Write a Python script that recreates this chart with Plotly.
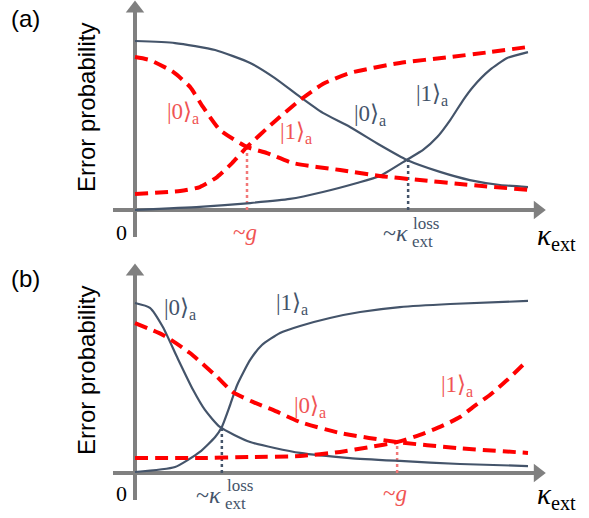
import plotly.graph_objects as go

# ---------------- data (schematic, normalised units) ----------------
# panel (a)
a_dark0_x = [0, 0.102, 0.204, 0.293, 0.356, 0.42, 0.478, 0.547, 0.623, 0.692, 0.776, 0.852, 0.929, 1.0]
a_dark0_y = [0.994, 0.982, 0.941, 0.865, 0.776, 0.665, 0.571, 0.488, 0.382, 0.294, 0.224, 0.176, 0.147, 0.135]
a_dark1_x = [0, 0.165, 0.293, 0.394, 0.478, 0.565, 0.623, 0.695, 0.733, 0.769, 0.802, 0.835, 0.860, 0.903, 0.947, 1.0]
a_dark1_y = [0, 0.018, 0.041, 0.065, 0.106, 0.159, 0.200, 0.300, 0.353, 0.429, 0.529, 0.647, 0.724, 0.824, 0.894, 0.929]
a_red0_x = [0, 0.038, 0.097, 0.140, 0.173, 0.216, 0.285, 0.336, 0.402, 0.522, 0.623, 0.725, 0.827, 1.0]
a_red0_y = [0.9, 0.882, 0.812, 0.724, 0.606, 0.471, 0.371, 0.335, 0.276, 0.235, 0.2, 0.176, 0.153, 0.118]
a_red1_x = [0, 0.115, 0.165, 0.209, 0.247, 0.285, 0.351, 0.42, 0.478, 0.547, 0.674, 0.802, 0.903, 1.0]
a_red1_y = [0.094, 0.112, 0.135, 0.194, 0.276, 0.371, 0.512, 0.647, 0.741, 0.806, 0.865, 0.9, 0.929, 0.959]
a_g_x = 0.285          # ~g crossing (red)
a_g_y = 0.371
a_loss_x = 0.695       # ~kappa_ext^loss crossing (dark)
a_loss_y = 0.300

# panel (b)
b_dark0_x = [0, 0.038, 0.071, 0.107, 0.148, 0.178, 0.216, 0.293, 0.42, 0.547, 0.674, 0.827, 1.0]
b_dark0_y = [1.0, 0.972, 0.859, 0.682, 0.488, 0.371, 0.271, 0.182, 0.118, 0.088, 0.071, 0.053, 0.041]
b_dark1_x = [0, 0.102, 0.165, 0.204, 0.221, 0.242, 0.260, 0.293, 0.323, 0.369, 0.42, 0.496, 0.573, 0.674, 0.802, 1.0]
b_dark1_y = [0.006, 0.035, 0.124, 0.212, 0.271, 0.4, 0.518, 0.665, 0.753, 0.824, 0.865, 0.912, 0.947, 0.976, 0.994, 1.012]
b_red0_x = [0, 0.071, 0.140, 0.209, 0.249, 0.300, 0.351, 0.42, 0.522, 0.667, 0.819, 1.0]
b_red0_y = [0.882, 0.812, 0.706, 0.565, 0.476, 0.418, 0.371, 0.3, 0.235, 0.182, 0.147, 0.118]
b_red1_x = [0, 0.165, 0.293, 0.42, 0.522, 0.598, 0.667, 0.725, 0.776, 0.827, 0.860, 0.903, 0.947, 1.0]
b_red1_y = [0.088, 0.088, 0.094, 0.1, 0.124, 0.153, 0.182, 0.224, 0.271, 0.329, 0.388, 0.459, 0.547, 0.665]
b_loss_x = 0.221
b_loss_y = 0.271
b_g_x = 0.667
b_g_y = 0.182

# ---------------- styles ----------------
DARK = "#44546A"
RED = "#FF0000"
RED_TXT = "#F05454"
RED_DOT = "#F27878"
GREY = "#808080"
SERIF = "Liberation Serif, DejaVu Serif, serif"
SANS = "Liberation Sans, Arial, sans-serif"

W, H = 589, 518
# pixel mapping of the data frames
X0PX, XSCALE = 135, 393
A_BASE, B_BASE, YSCALE = 210, 473, 170

x_range = [(0 - X0PX) / XSCALE, (W - X0PX) / XSCALE]
ya_range = [(A_BASE - H) / YSCALE, A_BASE / YSCALE]
yb_range = [(B_BASE - H) / YSCALE, B_BASE / YSCALE]

fig = go.Figure()


def line(x, y, yaxis, color, width, dash=None):
    fig.add_trace(go.Scatter(x=x, y=y, yaxis=yaxis, mode="lines",
                             line=dict(color=color, width=width, dash=dash,
                                       shape="spline", smoothing=0.55),
                             hoverinfo="skip", showlegend=False))


def axis_arrows(yaxis):
    # horizontal axis
    fig.add_trace(go.Scatter(x=[-0.056, 1.02], y=[0, 0], yaxis=yaxis, mode="lines",
                             line=dict(color=GREY, width=4), hoverinfo="skip", showlegend=False))
    fig.add_trace(go.Scatter(x=[1.025], y=[0], yaxis=yaxis, mode="markers",
                             marker=dict(symbol="triangle-right", size=16, color=GREY, line=dict(width=0)),
                             hoverinfo="skip", showlegend=False))
    # vertical axis
    fig.add_trace(go.Scatter(x=[0, 0], y=[-0.159, 1.17], yaxis=yaxis, mode="lines",
                             line=dict(color=GREY, width=4), hoverinfo="skip", showlegend=False))
    fig.add_trace(go.Scatter(x=[0], y=[1.185], yaxis=yaxis, mode="markers",
                             marker=dict(symbol="triangle-up", size=16, color=GREY, line=dict(width=0)),
                             hoverinfo="skip", showlegend=False))


def vdot(x, ytop, yaxis, color):
    fig.add_trace(go.Scatter(x=[x, x], y=[0, ytop], yaxis=yaxis, mode="lines",
                             line=dict(color=color, width=2.5, dash="dot"),
                             hoverinfo="skip", showlegend=False))


for ya in ("y", "y2"):
    axis_arrows(ya)

vdot(a_g_x, a_g_y, "y", RED_DOT)
vdot(a_loss_x, a_loss_y, "y", DARK)
vdot(b_loss_x, b_loss_y, "y2", DARK)
vdot(b_g_x, b_g_y, "y2", RED_DOT)

line(a_dark0_x, a_dark0_y, "y", DARK, 2.2)
line(a_dark1_x, a_dark1_y, "y", DARK, 2.2)
line(b_dark0_x, b_dark0_y, "y2", DARK, 2.2)
line(b_dark1_x, b_dark1_y, "y2", DARK, 2.2)
DASH = "13px,7px"
line(a_red0_x, a_red0_y, "y", RED, 4, DASH)
line(a_red1_x, a_red1_y, "y", RED, 4, DASH)
line(b_red0_x, b_red0_y, "y2", RED, 4, DASH)
line(b_red1_x, b_red1_y, "y2", RED, 4, DASH)

ann = []


def txt(text, x, y, xref, yref, size, color, font=SERIF, xanchor="center", yanchor="middle", angle=0):
    ann.append(dict(text=text, x=x, y=y, xref=xref, yref=yref, showarrow=False,
                    font=dict(size=size, color=color, family=font),
                    xanchor=xanchor, yanchor=yanchor, textangle=angle))


def px(xp):
    return xp / W


def py(yp):
    return 1 - yp / H


KET0 = "|0⟩<sub>a</sub>"
KET1 = "|1⟩<sub>a</sub>"
KS = 23

# panel labels & axis titles
txt("(a)", px(25), py(18), "paper", "paper", 24, "black", SANS)
txt("(b)", px(25), py(278), "paper", "paper", 24, "black", SANS)
txt("Error probability", px(86), py(108), "paper", "paper", 24, "black", SANS, angle=-90)
txt("Error probability", px(86), py(371), "paper", "paper", 24, "black", SANS, angle=-90)
txt("0", px(121), py(232), "paper", "paper", 22, "black")
txt("0", px(121), py(493), "paper", "paper", 22, "black")
txt("<i>κ</i><sub>ext</sub>", px(535), py(237), "paper", "paper", 29, "black", xanchor="left")
txt("<i>κ</i><sub>ext</sub>", px(535), py(496), "paper", "paper", 29, "black", xanchor="left")

# curve labels (a)
txt(KET0, 0.122, 0.57, "x", "y", KS, RED_TXT)
txt(KET1, 0.41, 0.455, "x", "y", KS, RED_TXT)
txt(KET0, 0.598, 0.56, "x", "y", KS, DARK)
txt(KET1, 0.756, 0.677, "x", "y", KS, DARK)
# curve labels (b)
txt(KET0, 0.115, 0.965, "x", "y2", KS, DARK)
txt(KET1, 0.40, 0.995, "x", "y2", KS, DARK)
txt(KET0, 0.445, 0.39, "x", "y2", KS, RED_TXT)
txt(KET1, 0.819, 0.513, "x", "y2", KS, RED_TXT)

# tick-like markers on x axis
txt("~<i>g</i>", a_g_x - 0.005, -0.13, "x", "y", 23, RED_TXT)
txt("~<i>g</i>", b_g_x - 0.005, -0.12, "x", "y2", 23, RED_TXT)


def kloss(x, base_y, yref):
    txt("~<i>κ</i>", x + 0.004, base_y, "x", yref, 24, DARK, xanchor="right")
    txt("loss", x + 0.008, base_y + 0.055, "x", yref, 17, DARK, xanchor="left")
    txt("ext", x + 0.004, base_y - 0.05, "x", yref, 17, DARK, xanchor="left")


kloss(a_loss_x, -0.135, "y")
kloss(b_loss_x, -0.13, "y2")

fig.update_layout(
    width=W, height=H,
    margin=dict(l=0, r=0, t=0, b=0),
    paper_bgcolor="white", plot_bgcolor="white",
    xaxis=dict(range=x_range, visible=False, domain=[0, 1]),
    yaxis=dict(range=ya_range, visible=False, domain=[0, 1]),
    yaxis2=dict(range=yb_range, visible=False, domain=[0, 1], overlaying="y", anchor="x"),
    annotations=ann,
    showlegend=False,
)

fig.write_html("out.html")
